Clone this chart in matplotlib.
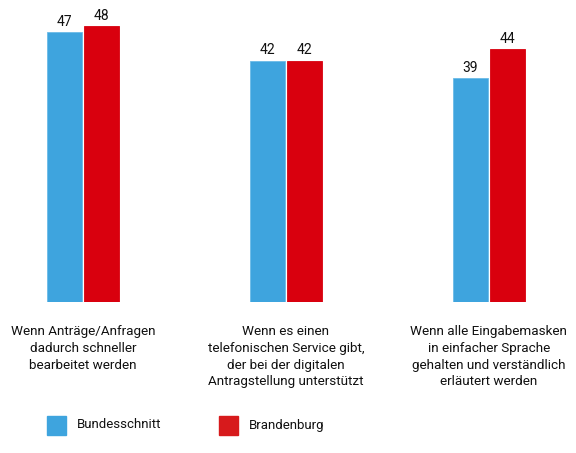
import numpy as np
import matplotlib.pyplot as plt
from matplotlib.patches import Rectangle

plt.rcParams['font.family'] = ['Roboto', 'DejaVu Sans']

categories = [
    "Wenn Anträge/Anfragen\ndadurch schneller\nbearbeitet werden",
    "Wenn es einen\ntelefonischen Service gibt,\nder bei der digitalen\nAntragstellung unterstützt",
    "Wenn alle Eingabemasken\nin einfacher Sprache\ngehalten und verständlich\nerläutert werden",
]
series_names = ["Bundesschnitt", "Brandenburg"]
bund = [47, 42, 39]
brandenburg = [48, 42, 44]

blue = "#3ea4de"
red = "#d9000e"
legend_colors = ["#3ea4de", "#d71a1c"]

fig = plt.figure(figsize=(5.76, 4.53), dpi=100)
ax = fig.add_axes([0, 0.3333, 1, 0.6667])

x = np.arange(len(categories))
w = 0.172
off = w / 2 + 0.005
b1 = ax.bar(x - off, bund, w, color=blue, edgecolor="#6bbbe8", linewidth=0.6)
b2 = ax.bar(x + off, brandenburg, w, color=red, edgecolor=red, linewidth=0.6)

for bars in (b1, b2):
    for r in bars:
        ax.text(r.get_x() + r.get_width() / 2, r.get_height() + 0.6,
                str(int(r.get_height())), ha="center", va="bottom",
                fontsize=10, color="#111111")

ax.set_xlim(-0.409, 2.429)
ax.set_ylim(0, 52.57)
ax.axis("off")

# category labels under the bars
for i, lab in enumerate(categories):
    ax.text(i, -4.0, lab, ha="center", va="top", fontsize=9.7,
            color="#111111", linespacing=1.38)

# legend
for i, (name, c) in enumerate(zip(series_names, legend_colors)):
    lx = 47 + i * 172
    fig.patches.append(Rectangle((lx / 576, (453 - 435) / 453), 19 / 576, 19 / 453,
                                 transform=fig.transFigure, facecolor=c,
                                 edgecolor=c, figure=fig))
    fig.text((lx + 30) / 576, (453 - 425) / 453, name, ha="left", va="center",
             fontsize=9.5, color="#111111")

fig.savefig("out.png", dpi=100)
